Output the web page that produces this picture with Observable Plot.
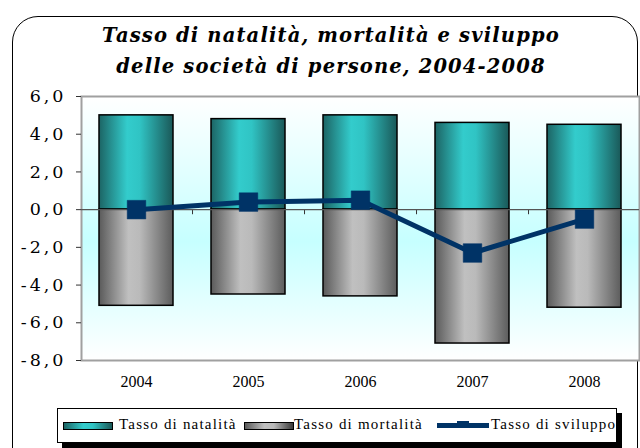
<!DOCTYPE html>
<html>
<head>
<meta charset="utf-8">
<script src="https://cdn.jsdelivr.net/npm/d3@7"></script>
<script src="https://cdn.jsdelivr.net/npm/@observablehq/plot@0.6"></script>
<style>
  html, body { margin: 0; padding: 0; background: #fff; }
  #wrap { position: relative; width: 640px; height: 448px; overflow: hidden; }
  #border { position: absolute; left: 12px; top: 16px; width: 626px; height: 460px;
            border: 1.5px solid #000; border-radius: 26px; box-sizing: border-box; }
  #title { position: absolute; left: 0; width: 662px; top: 20px; text-align: center;
           font-family: "DejaVu Serif", serif; font-weight: bold; font-style: italic;
           font-size: 19.5px; line-height: 31px; letter-spacing: 1.15px; color: #000; }
  #chart { position: absolute; left: 0; top: 0; }
  #legend { position: absolute; left: 57px; top: 408px; width: 560px; height: 35px;
            border: 1px solid #000; background: #fff; box-sizing: border-box;
            box-shadow: 5px 5px 0 #000; font-family: "Liberation Serif", serif;
            font-size: 15px; letter-spacing: 1.2px; }
  .item { position: absolute; top: 7px; white-space: nowrap; }
  .sw { position: absolute; top: 13px; height: 8px; border: 1px solid #000; box-sizing: border-box; }
</style>
</head>
<body>
<div id="wrap">
  <div id="border"></div>
  <div id="title">Tasso di natalità, mortalità e sviluppo<br>delle società di persone, 2004-2008</div>
  <div id="chart"></div>
  <div id="legend"></div>
</div>
<svg width="0" height="0" style="position:absolute">
  <defs>
    <linearGradient id="gTeal" x1="0" x2="1" y1="0" y2="0">
      <stop offset="0" stop-color="#1c6464"/>
      <stop offset="0.38" stop-color="#33cccc"/>
      <stop offset="0.55" stop-color="#30c4c4"/>
      <stop offset="1" stop-color="#1a5858"/>
    </linearGradient>
    <linearGradient id="gGrey" x1="0" x2="1" y1="0" y2="0">
      <stop offset="0" stop-color="#5a5a5a"/>
      <stop offset="0.4" stop-color="#c0c0c0"/>
      <stop offset="0.55" stop-color="#bababa"/>
      <stop offset="1" stop-color="#5c5c5c"/>
    </linearGradient>
    <linearGradient id="gBg" x1="0" x2="0" y1="0" y2="1">
      <stop offset="0" stop-color="#ffffff"/>
      <stop offset="0.55" stop-color="#c6ffff"/>
      <stop offset="1" stop-color="#ffffff"/>
    </linearGradient>
  </defs>
</svg>
<script>
const years = ["2004", "2005", "2006", "2007", "2008"];
const natalita = [5.0, 4.8, 5.0, 4.6, 4.5];
const mortalita = [-5.1, -4.5, -4.6, -7.1, -5.2];
const sviluppo = [0.0, 0.4, 0.5, -2.3, -0.5];
const yTicks = [-8, -6, -4, -2, 0, 2, 4, 6];
const legendLabels = ["Tasso di natalità", "Tasso di mortalità", "Tasso di sviluppo"];

const rows = years.map((y, i) => ({year: y, nat: natalita[i], mor: mortalita[i], svi: sviluppo[i]}));

const W = 640, ML = 81, MR = 1;
const padIn = 0.34, padOut = 0.16;
const step = (W - ML - MR) / (years.length - padIn + 2 * padOut);

const chart = Plot.plot({
  width: W,
  height: 400,
  marginLeft: ML,
  marginRight: MR,
  marginTop: 96,
  marginBottom: 40,
  x: {domain: years, paddingInner: padIn, paddingOuter: padOut, label: null},
  y: {domain: [-8, 6], label: null},
  style: {background: "transparent", overflow: "visible"},
  marks: [
    Plot.frame({fill: "url(#gBg)", stroke: "#a0a0a0", strokeWidth: 2}),
    Plot.ruleX(years.slice(0, -1), {x: d => d, y1: 0, y2: -0.27, dx: step / 2, stroke: "#333", strokeWidth: 1}),
    Plot.barY(rows, {x: "year", y1: 0, y2: "nat", fill: "url(#gTeal)", stroke: "#000", strokeWidth: 1.5}),
    Plot.barY(rows, {x: "year", y1: 0, y2: "mor", fill: "url(#gGrey)", stroke: "#000", strokeWidth: 1.5}),
    Plot.ruleY([0], {stroke: "#555", strokeWidth: 1.3}),
    Plot.line(rows, {x: "year", y: "svi", stroke: "#003366", strokeWidth: 5}),
    Plot.dot(rows, {x: "year", y: "svi", symbol: "square", r: 10.5, fill: "#003366", stroke: "#003366", strokeWidth: 0.5, strokeLinejoin: "round"}),
    Plot.axisY({ticks: yTicks, tickFormat: d => d.toFixed(1).replace(".", ","), tickSize: 5, tickPadding: 10,
      fontSize: 17.5, fontFamily: "DejaVu Serif", stroke: "#333"}),
    Plot.axisX({tickSize: 0, tickPadding: 15, fontSize: 16, fontFamily: "Liberation Serif"})
  ]
});
document.getElementById("chart").appendChild(chart);
chart.querySelectorAll("text").forEach(t => {
  const s = t.textContent;
  if (/^-?\d,\d$/.test(s)) {
    t.setAttribute("letter-spacing", "3");
    t.setAttribute("fill", "#000");
  } else if (/^\d{4}$/.test(s)) {
    t.setAttribute("fill", "#000");
  }
});

// legend
const leg = document.getElementById("legend");
const legendDefs = [
  {sw: "linear-gradient(to right,#1c6464,#33cccc 40%,#30c4c4 60%,#1a5858)", swL: 5, txL: 61},
  {sw: "linear-gradient(to right,#5a5a5a,#c0c0c0 40%,#bababa 60%,#3a3a3a)", swL: 186, txL: 236},
  {line: true, swL: 379, txL: 433}
];
legendLabels.forEach((lab, i) => {
  const d = legendDefs[i];
  if (d.line) {
    const s = document.createElement("div");
    s.style.cssText = `position:absolute;left:${d.swL}px;top:14px;width:52px;height:5px;background:#003366;`;
    leg.appendChild(s);
    const m = document.createElement("div");
    m.style.cssText = `position:absolute;left:${d.swL + 20}px;top:12px;width:12px;height:4px;background:#003366;`;
    leg.appendChild(m);
  } else {
    const s = document.createElement("div");
    s.className = "sw";
    s.style.left = d.swL + "px";
    s.style.width = "50px";
    s.style.background = d.sw;
    leg.appendChild(s);
  }
  const t = document.createElement("div");
  t.className = "item";
  t.style.left = d.txL + "px";
  t.textContent = lab;
  leg.appendChild(t);
});
</script>
</body>
</html>
